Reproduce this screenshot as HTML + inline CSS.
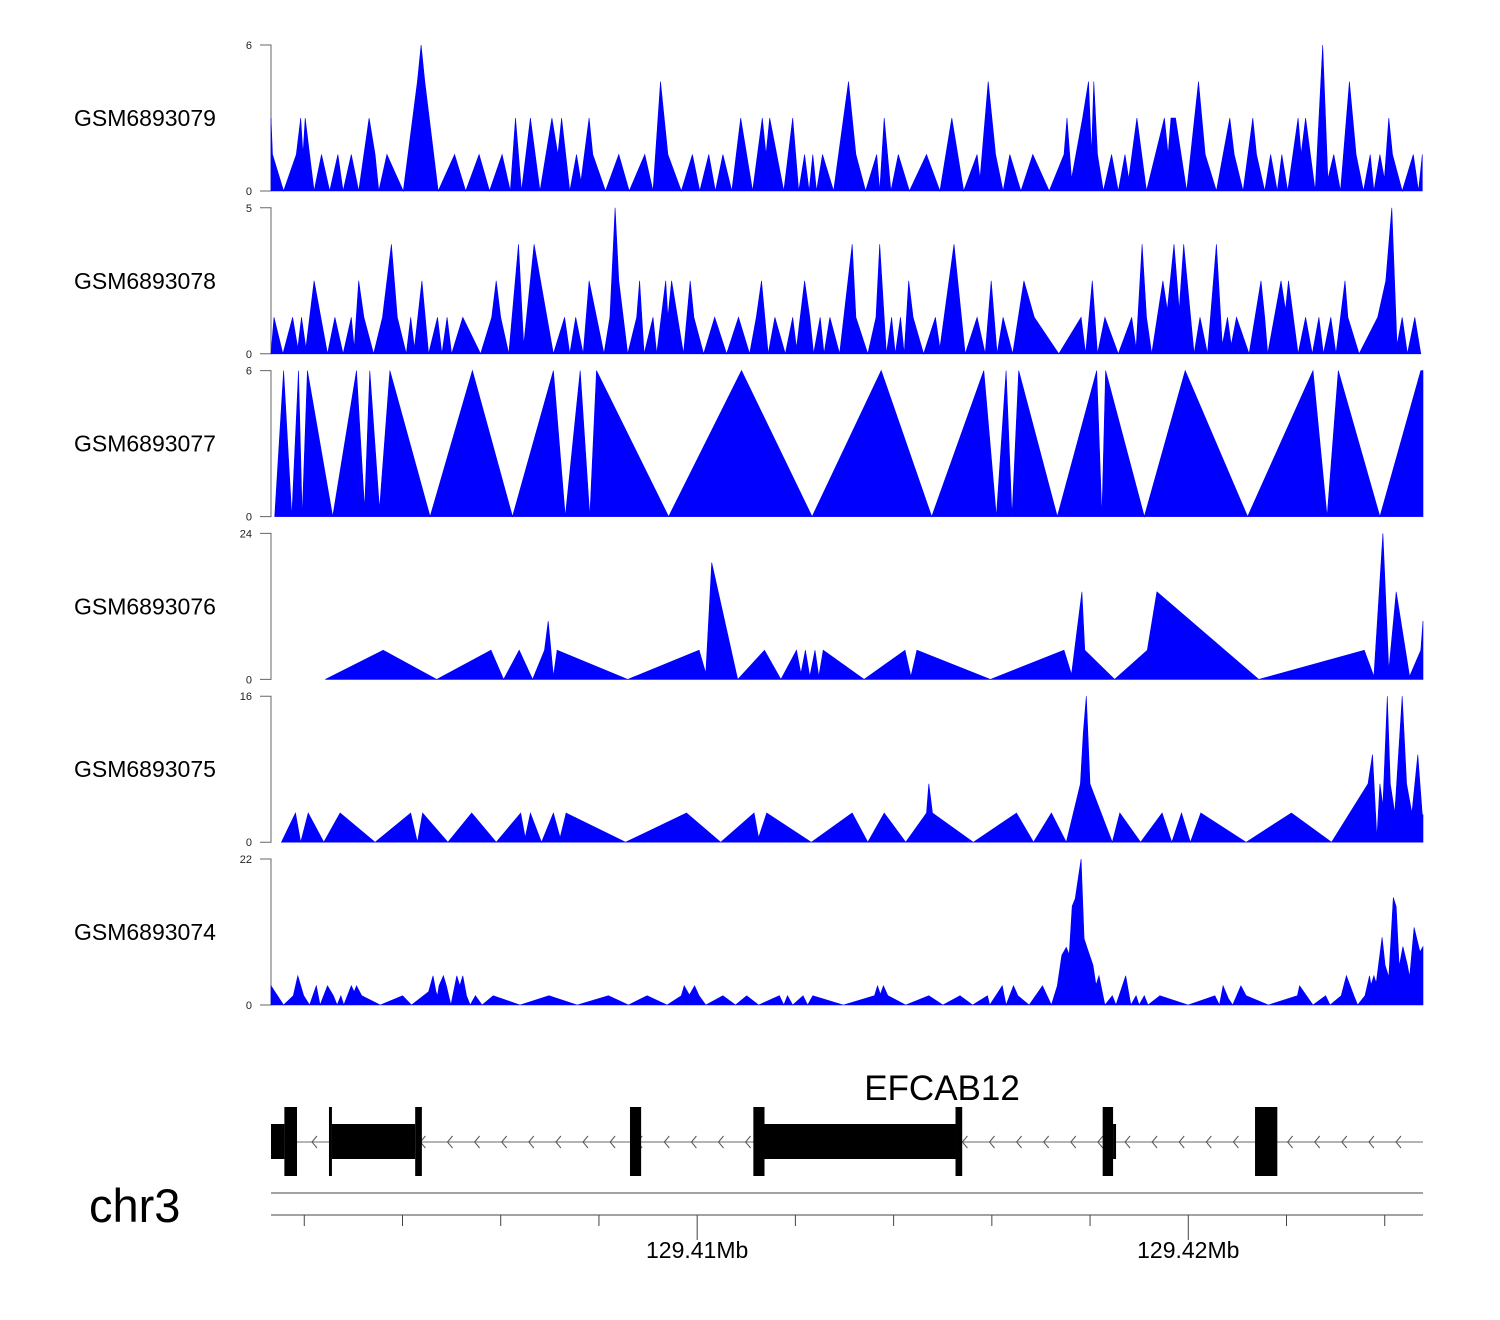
<!DOCTYPE html>
<html><head><meta charset="utf-8"><style>
html,body{margin:0;padding:0;background:#fff;}
svg{display:block;font-family:"Liberation Sans",sans-serif;}
</style></head><body>
<svg id="chart" width="1500" height="1320" viewBox="0 0 1500 1320" xmlns="http://www.w3.org/2000/svg"></svg>
<script>
// ---- data (positions in bins of ~15bp, values = coverage) ----
const sampleNames = ["GSM6893079","GSM6893078","GSM6893077","GSM6893076","GSM6893075","GSM6893074"];
const yMax = [6,5,6,24,16,22];
const t1 = [[8,3],[10,1.5],[25,0],[42,1.5],[48,3],[51,1.5],[54,3],[60,1.5],[66,0],[76,1.5],[87,0],[98,1.5],[105,0],[116,1.5],[126,0],[140,3],[148,1.5],[153,0],[164,1.5],[186,0],[205,4.5],[210,6],[215,4.5],[233,0],[255,1.5],[270,0],[288,1.5],[302,0],[319,1.5],[330,0],[337,3],[345,0],[357,3],[370,0],[386,3],[394,1.5],[399,3],[410,0],[419,1.5],[425,0.4],[436,3],[441,1.5],[458,0],[476,1.5],[490,0],[511,1.5],[522,0],[532,4.5],[542,1.5],[560,0],[575,1.5],[585,0],[597,1.5],[606,0],[616,1.5],[628,0],[640,3],[656,0],[669,3],[674,1.5],[679,3],[698,0],[710,3],[718,0],[726,1.5],[732,0],[737,1.5],[742,0],[750,1.5],[765,0],[785,4.5],[795,1.5],[808,0],[823,1.5],[827,0],[833,3],[842,0],[852,1.5],[867,0],[890,1.5],[908,0],[924,3],[940,0],[958,1.5],[962,0.5],[973,4.5],[983,1.5],[993,0],[1002,1.5],[1017,0],[1033,1.5],[1055,0],[1075,1.5],[1079,3],[1085,0.5],[1100,3],[1108,4.5],[1112,1.5],[1115,4.5],[1120,1.5],[1128,0],[1139,1.5],[1148,0],[1157,1.5],[1162,0.5],[1173,3],[1186,0],[1210,3],[1215,1.5],[1219,3],[1225,3],[1240,0],[1256,4.5],[1265,1.5],[1280,0],[1298,3],[1304,1.5],[1316,0],[1329,3],[1334,1.5],[1345,0],[1353,1.5],[1362,0],[1368,1.5],[1376,0],[1390,3],[1394,1.5],[1400,3],[1413,0],[1423,6],[1430,0.5],[1438,1.5],[1447,0],[1459,4.5],[1468,1.5],[1478,0],[1487,1.5],[1492,0],[1500,1.5],[1506,0.5],[1512,3],[1517,1.5],[1530,0],[1545,1.5],[1552,0],[1557,1.5]];
const t2 = [[8,0],[12,1.25],[24,0],[37,1.25],[44,0.2],[49,1.25],[55,0.2],[66,2.5],[84,0],[94,1.25],[105,0],[116,1.25],[120,0.2],[126,2.5],[133,1.25],[146,0],[158,1.25],[170,3.75],[178,1.25],[190,0],[196,1.25],[201,0.2],[211,2.5],[220,0],[232,1.25],[238,0],[245,1.25],[251,0],[266,1.25],[290,0],[305,1.25],[311,2.5],[317,1.25],[328,0],[341,3.75],[348,0.3],[362,3.75],[388,0],[403,1.25],[410,0],[418,1.25],[428,0],[436,2.5],[456,0],[464,1.25],[471,5],[476,2.5],[488,0],[500,1.25],[504,2.5],[510,0],[522,1.25],[527,0],[539,2.5],[542,1.25],[547,2.5],[563,0],[572,2.5],[577,1.25],[590,0],[605,1.25],[621,0],[637,1.25],[652,0],[661,1.25],[668,2.5],[677,0],[686,1.25],[700,0],[710,1.25],[715,0.2],[726,2.5],[733,1.25],[738,0],[747,1.25],[752,0],[760,1.25],[773,0],[790,3.75],[795,1.25],[811,0],[822,1.25],[827,3.75],[836,0],[843,1.25],[848,0],[855,1.25],[860,0],[866,2.5],[872,1.25],[886,0],[902,1.25],[908,0.2],[927,3.75],[942,0],[958,1.25],[969,0],[977,2.5],[985,0],[993,1.25],[1006,0],[1021,2.5],[1035,1.25],[1068,0],[1098,1.25],[1104,0],[1113,2.5],[1120,0],[1130,1.25],[1148,0],[1166,1.25],[1172,0.2],[1180,3.75],[1186,1.25],[1193,0],[1208,2.5],[1214,1.5],[1223,3.75],[1230,1.5],[1236,3.75],[1250,0],[1258,1.25],[1268,0],[1280,3.75],[1288,0.3],[1295,1.25],[1300,0.3],[1307,1.25],[1324,0],[1340,2.5],[1345,1.25],[1349,0],[1367,2.5],[1373,1.5],[1377,2.5],[1390,0],[1400,1.25],[1409,0],[1418,1.25],[1424,0],[1434,1.25],[1441,0],[1453,2.5],[1457,1.25],[1472,0],[1497,1.25],[1508,2.5],[1516,5],[1523,0.3],[1530,1.25],[1537,0],[1547,1.25],[1555,0]];
const t3 = [[13,0],[25,6],[36,0],[45,6],[50,0],[57,6],[91,0],[123,6],[134,0.3],[141,6],[154,0.3],[168,6],[222,0],[279,6],[333,0],[388,6],[404,0],[424,6],[437,0],[446,6],[543,0],[641,6],[736,0],[829,6],[897,0],[967,6],[984,0],[997,6],[1005,0],[1014,6],[1066,0],[1119,6],[1126,0],[1131,6],[1183,0],[1238,6],[1322,0],[1410,6],[1429,0],[1444,6],[1500,0],[1555,6],[1558,6]];
const t4 = [[81,0],[159,4.8],[231,0],[304,4.8],[321,0],[342,4.8],[360,0],[376,4.8],[381,9.6],[388,0.5],[393,4.8],[488,0],[584,4.8],[593,1],[601,19.2],[636,0],[672,4.8],[694,0],[715,4.8],[721,1],[727,4.8],[733,0.5],[740,4.8],[745,0.5],[751,4.8],[806,0],[861,4.8],[869,0.5],[877,4.8],[976,0],[1075,4.8],[1085,0.8],[1099,14.4],[1103,4.8],[1143,0],[1187,4.8],[1200,14.4],[1337,0],[1479,4.8],[1492,0.5],[1504,24],[1512,1.5],[1522,14.4],[1540,0.5],[1555,4.8],[1558,9.6]];
const t5 = [[22,0],[41,3.2],[48,0],[58,3.2],[79,0],[101,3.2],[148,0],[196,3.2],[205,0],[212,3.2],[246,0],[278,3.2],[311,0],[344,3.2],[350,0.5],[357,3.2],[372,0],[388,3.2],[397,0.5],[405,3.2],[485,0],[567,3.2],[613,0],[658,3.2],[664,0.5],[675,3.2],[735,0],[790,3.2],[811,0],[833,3.2],[862,0],[890,3.2],[893,6.4],[898,3.2],[953,0],[1011,3.2],[1034,0],[1058,3.2],[1078,0],[1097,6.4],[1101,12],[1105,16],[1110,6.4],[1140,0],[1150,3.2],[1178,0],[1207,3.2],[1220,0],[1233,3.2],[1245,0],[1259,3.2],[1320,0],[1381,3.2],[1435,0],[1484,6.4],[1490,9.6],[1496,0.5],[1500,6.4],[1504,4],[1510,16],[1514,6.4],[1520,3.2],[1530,16],[1536,6.4],[1543,3.2],[1551,9.6],[1557,3],[1558,3]];
const t6 = [[8,2.9],[25,0],[38,1.4],[44,4.4],[52,1.4],[60,0],[69,2.9],[74,0],[84,2.9],[92,1.4],[97,0],[102,1.4],[106,0],[116,2.9],[120,2],[123,2.9],[130,1.4],[155,0],[185,1.4],[197,0],[220,2],[226,4.4],[230,2],[232,1.4],[234,2.9],[240,4.4],[244,2.9],[250,0],[258,4.4],[262,2.9],[266,4.4],[271,1.4],[276,0],[283,1.4],[292,0],[307,1.4],[343,0],[382,1.4],[420,0],[462,1.4],[489,0],[514,1.4],[541,0],[560,1.4],[564,2.9],[571,1.5],[578,2.9],[584,1.4],[593,0],[616,1.4],[633,0],[648,1.4],[664,0],[692,1.4],[698,0],[703,1.4],[710,0],[724,1.4],[730,0],[737,1.4],[778,0],[820,1.4],[824,2.9],[828,1.6],[832,2.9],[838,1.4],[862,0],[893,1.4],[912,0],[935,1.4],[952,0],[972,1.4],[975,0],[992,2.9],[997,0],[1007,2.9],[1013,1.4],[1028,0],[1046,2.9],[1058,0],[1066,2.9],[1072,7.5],[1078,8.7],[1082,7.6],[1086,14.9],[1090,16],[1098,22],[1102,10],[1106,8.6],[1114,6],[1118,3],[1122,4.4],[1130,0],[1140,1.4],[1145,0],[1158,4.4],[1165,0],[1172,1.4],[1176,0],[1183,1.4],[1188,0],[1204,1.4],[1242,0],[1278,1.4],[1284,0],[1289,2.9],[1296,1],[1302,0],[1313,2.9],[1320,1.4],[1350,0],[1389,1.4],[1392,2.9],[1410,0],[1427,1.4],[1433,0],[1448,1.4],[1455,4.4],[1465,1.4],[1470,0],[1480,1.4],[1486,4.4],[1488,3],[1492,4.4],[1495,3.3],[1503,10.2],[1507,6],[1512,4.2],[1518,16.2],[1522,14.8],[1526,5.8],[1531,8.8],[1537,6],[1540,4.2],[1546,11.7],[1550,9.8],[1554,8],[1558,8.8]];
const tracks = [t1,t2,t3,t4,t5,t6];
// gene model: [start, end, kind] kind: "tall" or "mid"
const exons = [[8,26,"mid"],[26,43,"tall"],[86,90,"tall"],[90,202,"mid"],[202,211,"tall"],[491,506,"tall"],[657,672,"tall"],[672,929,"mid"],[929,938,"tall"],[1127,1141,"tall"],[1141,1145,"mid"],[1332,1362,"tall"]];
const geneName = "EFCAB12";
const chromName = "chr3";
const axisTicksKb = [129402,129404,129406,129408,129410,129412,129414,129416,129418,129420,129422,129424];
const axisLabels = {129410:"129.41Mb",129420:"129.42Mb"};

// ---- scales ----
const X0 = 271, X1 = 1423, B0 = 8, B1 = 1558;
function x(b){ return X0 + (b - B0) * (X1 - X0) / (B1 - B0); }
const BINS_PER_KB = 66.08, REF_BIN = 581.4, REF_KB = 129410;
function xKb(kb){ return x(REF_BIN + (kb - REF_KB) * BINS_PER_KB); }
const TRACK_TOP = 45, TRACK_STEP = 162.8, TRACK_H = 146;

const NS = "http://www.w3.org/2000/svg";
const svg = document.getElementById("chart");
function mk(tag, attrs, parent){
  const e = document.createElementNS(NS, tag);
  for (const k in attrs) e.setAttribute(k, attrs[k]);
  (parent || svg).appendChild(e);
  return e;
}

tracks.forEach((pts, i) => {
  const top = TRACK_TOP + i * TRACK_STEP, base = top + TRACK_H;
  const y = v => base - v / yMax[i] * TRACK_H;
  const g = mk("g", {});
  
  
  const lab = mk("text", {x: 74, y: top + 81, "font-size": 23, fill: "#000"}, g);
  lab.textContent = sampleNames[i];
  
  
  const ax = mk("path", {d: `M260 ${top}H271V${base}H260`, stroke: "#666", "stroke-width": 1, fill: "none"}, g);
  
  
  const tmax = mk("text", {x: 252, y: top + 4, "font-size": 11, "text-anchor": "end", fill: "#222"}, g);
  tmax.textContent = yMax[i];
  
  
  const tmin = mk("text", {x: 252, y: base + 4, "font-size": 11, "text-anchor": "end", fill: "#222"}, g);
  tmin.textContent = "0";
  
  
  let d = `M${x(pts[0][0]).toFixed(1)} ${base}`;
  pts.forEach(p => { d += `L${x(p[0]).toFixed(1)} ${y(p[1]).toFixed(1)}`; });
  d += `L${x(pts[pts.length-1][0]).toFixed(1)} ${base}Z`;
  const area = mk("path", {d: d, fill: "#0000ff", stroke: "#0000ff", "stroke-width": 0.6}, g);
  
  
});

// gene track
const GY = 1142;
const gl = mk("line", {x1: x(B0), x2: X1, y1: GY, y2: GY, stroke: "#888", "stroke-width": 1.2});


for (let ax = 312; ax < X1; ax += 27.1) {
  const a = mk("path", {d: `M${ax+5} ${GY-6}L${ax} ${GY}L${ax+5} ${GY+6}`, stroke: "#555", "stroke-width": 1, fill: "none"});
  
  
}
exons.forEach(e => {
  const tall = e[2] === "tall";
  const r = mk("rect", {x: x(e[0]), width: x(e[1]) - x(e[0]), y: tall ? 1107 : 1124, height: tall ? 69 : 35, fill: "#000"});
  
  
});
const gn = mk("text", {x: 942, y: 1100, "font-size": 35, "text-anchor": "middle", fill: "#000"});
gn.textContent = geneName;



// genome axis
const l1 = mk("line", {x1: X0, x2: X1, y1: 1193, y2: 1193, stroke: "#444", "stroke-width": 1});


const l2 = mk("line", {x1: X0, x2: X1, y1: 1215, y2: 1215, stroke: "#444", "stroke-width": 1});


axisTicksKb.forEach(kb => {
  const xx = xKb(kb);
  const major = axisLabels[kb] !== undefined;
  const t = mk("line", {x1: xx, x2: xx, y1: 1215, y2: major ? 1240 : 1226, stroke: "#444", "stroke-width": 1});
  
  
  if (major) {
    const tl = mk("text", {x: xx, y: 1258, "font-size": 23, "text-anchor": "middle", fill: "#000"});
    tl.textContent = axisLabels[kb];
    
    
  }
});
const chr = mk("text", {x: 89, y: 1222, "font-size": 47, fill: "#000"});
chr.textContent = chromName;


</script>
</body></html>
